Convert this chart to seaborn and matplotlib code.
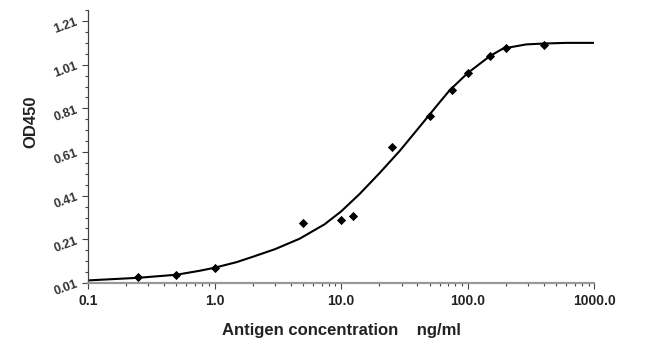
import numpy as np
import matplotlib
matplotlib.use("Agg")
import matplotlib.pyplot as plt
import seaborn as sns
import pandas as pd
from matplotlib.ticker import FixedLocator, NullFormatter, MultipleLocator

# measured standards (ng/ml vs OD450)
conc = [0.25, 0.5, 1.0, 5.0, 10.0, 12.5, 25.0, 50.0, 75.0, 100.0, 150.0, 200.0, 400.0]
od450 = [0.037, 0.046, 0.080, 0.283, 0.298, 0.316, 0.635, 0.775, 0.896, 0.972, 1.051, 1.087, 1.099]

# fitted curve
curve_x = [0.1, 0.25, 0.5, 0.76, 1.0, 1.5, 2.0, 3.0, 4.7, 7.4, 10.0, 14.0, 20.0, 29.0,
           42.0, 50.0, 60.0, 72.0, 100.0, 150.0, 190.0, 290.0, 400.0, 600.0, 1000.0]
curve_y = [0.022, 0.034, 0.048, 0.066, 0.080, 0.106, 0.130, 0.165, 0.213, 0.279, 0.338, 0.418,
           0.512, 0.615, 0.728, 0.782, 0.838, 0.893, 0.972, 1.050, 1.084, 1.103, 1.107, 1.110, 1.110]

xticks = [0.1, 1.0, 10.0, 100.0, 1000.0]
xtick_labels = ["0.1", "1.0", "10.0", "100.0", "1000.0"]
yticks = [0.01, 0.21, 0.41, 0.61, 0.81, 1.01, 1.21]
ytick_labels = ["0.01", "0.21", "0.41", "0.61", "0.81", "1.01", "1.21"]

sns.set_style("ticks")
plt.rcParams['font.family'] = ['Liberation Sans', 'DejaVu Sans']
plt.rcParams['font.weight'] = 'bold'

points = pd.DataFrame({'conc': conc, 'od': od450})
curve = pd.DataFrame({'conc': curve_x, 'od': curve_y})

fig = plt.figure(figsize=(6.51, 3.49), dpi=100)
ax = fig.add_axes([0.135, 0.189, 0.778, 0.782])

sns.lineplot(data=curve, x='conc', y='od', color='black', linewidth=1.5, ax=ax)
sns.scatterplot(data=points, x='conc', y='od', marker='D', s=22, color='black',
                edgecolor='black', linewidth=0, ax=ax, zorder=3)

ax.set_xscale('log')
ax.set_xlim(0.1, 1000)
ax.set_ylim(0.01, 1.26)

ax.set_xticks(xticks)
ax.set_xticklabels(xtick_labels, fontsize=10, fontweight='bold', color='#222222')
ax.xaxis.set_minor_locator(FixedLocator(
    [m * 10.0 ** e for e in range(-1, 3) for m in range(2, 10)]))
ax.xaxis.set_minor_formatter(NullFormatter())

ax.set_yticks(yticks)
ax.set_yticklabels(ytick_labels, fontsize=9, fontweight='bold', rotation=20,
                   color='#333333')
ax.yaxis.set_minor_locator(MultipleLocator(0.05, offset=0.01))

ax.tick_params(axis='both', which='major', length=4, width=0.8, color='#444444')
ax.tick_params(axis='both', which='minor', length=2.5, width=0.8, color='#444444')
ax.tick_params(axis='x', pad=4)
ax.tick_params(axis='y', pad=2)

for s in ['top', 'right']:
    ax.spines[s].set_visible(False)
ax.spines['left'].set_color('#444444')
ax.spines['left'].set_linewidth(0.9)
ax.spines['bottom'].set_color('#999999')
ax.spines['bottom'].set_linewidth(1.6)

ax.set_xlabel('Antigen concentration    ng/ml', fontsize=12, fontweight='bold',
              labelpad=11, color='#222222')
ax.set_ylabel('OD450', fontsize=12, fontweight='bold', color='#222222')
ax.yaxis.set_label_coords(-0.098, 0.59)

fig.savefig('out.png', dpi=100)
